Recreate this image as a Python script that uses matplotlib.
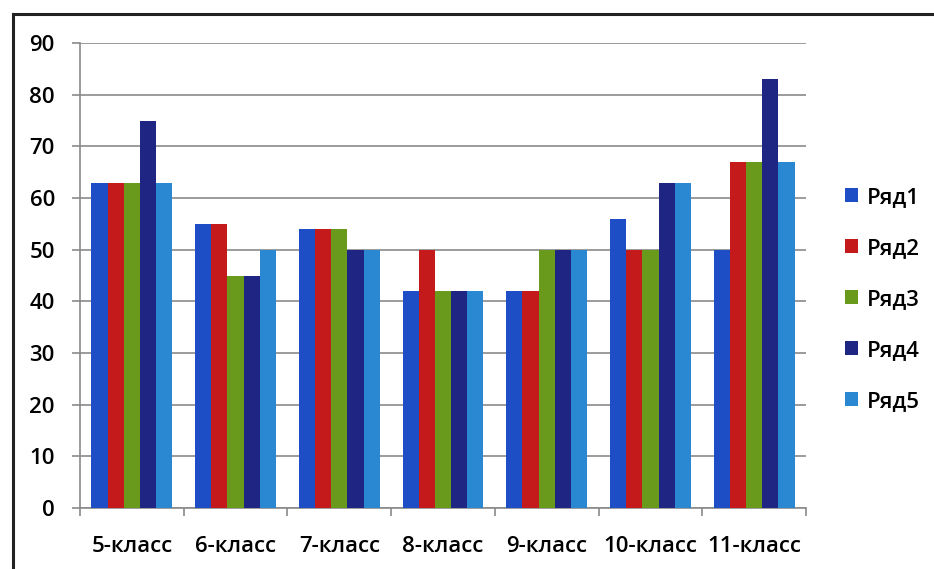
import matplotlib
matplotlib.use("Agg")
import matplotlib.pyplot as plt
import numpy as np
from matplotlib.lines import Line2D

categories = ["5-класс", "6-класс", "7-класс", "8-класс", "9-класс", "10-класс", "11-класс"]
series_names = ["Ряд1", "Ряд2", "Ряд3", "Ряд4", "Ряд5"]
row1 = [63, 55, 54, 42, 42, 56, 50]
row2 = [63, 55, 54, 50, 42, 50, 67]
row3 = [63, 45, 54, 42, 50, 50, 67]
row4 = [75, 45, 50, 42, 50, 63, 83]
row5 = [63, 50, 50, 42, 50, 63, 67]
y_ticks = [0, 10, 20, 30, 40, 50, 60, 70, 80, 90]

colors = ["#1E4EC6", "#C41A1C", "#6A9A1C", "#1F2583", "#2A88D2"]
series = [row1, row2, row3, row4, row5]

plt.rcParams['font.family'] = ['Open Sans', 'DejaVu Sans']
FS = 16
FW = 'semibold'

fig = plt.figure(figsize=(9.34, 5.69), dpi=100)
ax = fig.add_axes([80/934, 1 - 508/569, (806-80)/934, (508-43)/569])

n = len(series)
x = np.arange(len(categories))
bw = 0.156
for i, (vals, c, name) in enumerate(zip(series, colors, series_names)):
    ax.bar(x + (i - (n-1)/2) * bw, vals, width=bw, color=c, label=name, zorder=3)

ax.set_xlim(-0.5, len(categories) - 0.5)
ax.set_ylim(0, 90)
ax.set_yticks(y_ticks)
ax.set_yticklabels([str(v) for v in y_ticks], fontsize=FS, fontweight=FW)
ax.yaxis.grid(True, color="#8a8a8a", linewidth=1.2, zorder=0)
ax.set_axisbelow(True)

ax.set_xticks(x)
ax.set_xticklabels(categories, fontsize=FS, fontweight=FW)
ax.tick_params(axis='x', length=0, pad=20)
ax.set_xticks(np.arange(-0.5, len(categories)), minor=True)
ax.tick_params(axis='x', which='minor', length=6, color="#8a8a8a", width=1.2)
ax.tick_params(axis='y', length=6, color="#8a8a8a", width=1.2, pad=12)

for s in ["top", "right"]:
    ax.spines[s].set_visible(False)
for s in ["left", "bottom"]:
    ax.spines[s].set_color("#8a8a8a")
    ax.spines[s].set_linewidth(1.2)

leg = fig.legend(loc="upper left", bbox_to_anchor=(825/934, 1 - 167/569), frameon=False,
                 prop={'size': FS, 'weight': FW}, handlelength=0.6, handleheight=0.6,
                 labelspacing=1.35, handletextpad=0.4)

fig.add_artist(Line2D([13/934, 13/934], [0, 1 - 14/569], color="#222222", linewidth=2.2, transform=fig.transFigure))
fig.add_artist(Line2D([13/934, 1], [1 - 14/569, 1 - 14/569], color="#222222", linewidth=2.2, transform=fig.transFigure))

fig.savefig("out.png", dpi=100)
